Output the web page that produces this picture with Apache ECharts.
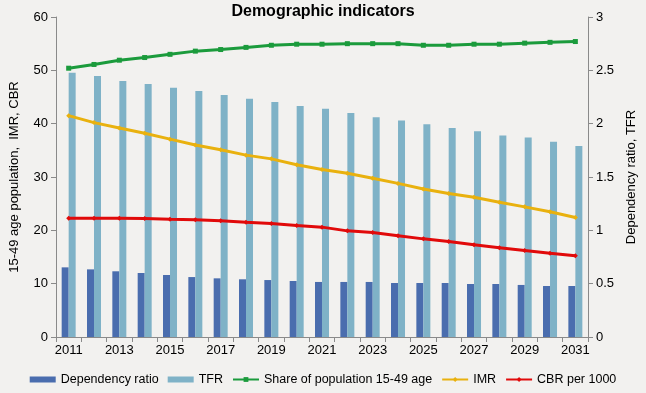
<!DOCTYPE html>
<html>
<head>
<meta charset="utf-8">
<script src="https://cdn.jsdelivr.net/npm/echarts@6/dist/echarts.min.js"></script>
<style>
html,body{margin:0;padding:0;background:#F2F1EF;}
#c{width:646px;height:393px;}
</style>
</head>
<body>
<div id="c"></div>
<script>
var years = ['2011','2012','2013','2014','2015','2016','2017','2018','2019','2020','2021','2022','2023','2024','2025','2026','2027','2028','2029','2030','2031'];
var dependencyRatio = [0.653,0.634,0.616,0.600,0.581,0.562,0.550,0.541,0.534,0.525,0.516,0.516,0.516,0.506,0.506,0.506,0.497,0.497,0.488,0.478,0.478];
var tfr = [2.478,2.447,2.400,2.372,2.337,2.306,2.269,2.234,2.203,2.166,2.140,2.100,2.060,2.030,1.995,1.960,1.930,1.890,1.870,1.830,1.790];
var share1549 = [50.4,51.1,51.9,52.4,53.0,53.6,53.9,54.3,54.7,54.9,54.9,55.0,55.0,55.0,54.7,54.7,54.9,54.9,55.1,55.25,55.4];
var imr = [41.5,40.2,39.2,38.2,37.1,36.0,35.1,34.1,33.4,32.3,31.4,30.7,29.75,28.8,27.75,26.9,26.2,25.25,24.4,23.5,22.4];
var cbr = [22.25,22.25,22.25,22.2,22.06,22.0,21.8,21.5,21.3,20.9,20.6,19.9,19.6,19.0,18.4,17.9,17.3,16.75,16.2,15.7,15.25];
var leftTicks = [0,10,20,30,40,50,60];
var rightTicks = [0,0.5,1,1.5,2,2.5,3];

var chart = echarts.init(document.getElementById('c'), null, {renderer:'canvas'});
var font = 'Liberation Sans, Arial, sans-serif';
var axisColor = '#8a8a8a';
chart.setOption({
  backgroundColor: '#F2F1EF',
  animation: false,
  title: {
    text: 'Demographic indicators',
    left: 'center',
    top: -1,
    textStyle: {fontFamily: font, fontSize: 16, fontWeight: 'bold', color: '#000'}
  },
  legend: {
    bottom: 2,
    left: 'center',
    itemWidth: 26,
    itemHeight: 6,
    itemGap: 9,
    textStyle: {fontFamily: font, fontSize: 12.5, color: '#000'},
    data: [
      {name: 'Dependency ratio', icon: 'rect'},
      {name: 'TFR', icon: 'rect'},
      'Share of population 15-49 age', 'IMR', 'CBR per 1000'
    ]
  },
  grid: {left: 50, right: 57, top: 17, bottom: 56, containLabel: false},
  xAxis: {
    type: 'category',
    data: years,
    boundaryGap: true,
    axisLine: {lineStyle: {color: axisColor}},
    axisTick: {show: true, interval: 0, length: 5, lineStyle: {color: axisColor}},
    axisLabel: {interval: 1, fontFamily: font, fontSize: 13, color: '#000', margin: 7}
  },
  yAxis: [
    {
      type: 'value', min: leftTicks[0], max: leftTicks[leftTicks.length-1], interval: 10,
      name: '15-49 age population,  IMR, CBR',
      nameLocation: 'middle', nameGap: 35, nameRotate: 90,
      nameTextStyle: {fontFamily: font, fontSize: 13, color: '#000'},
      axisLine: {show: true, lineStyle: {color: axisColor}},
      axisTick: {show: true, length: 5, lineStyle: {color: axisColor}},
      splitLine: {show: false},
      axisLabel: {fontFamily: font, fontSize: 13, color: '#000', margin: 8}
    },
    {
      type: 'value', min: rightTicks[0], max: rightTicks[rightTicks.length-1], interval: 0.5,
      name: 'Dependency ratio, TFR',
      nameLocation: 'middle', nameGap: 38, nameRotate: 90,
      nameTextStyle: {fontFamily: font, fontSize: 13, color: '#000', verticalAlign: 'bottom'},
      position: 'right',
      axisLine: {show: true, lineStyle: {color: axisColor}},
      axisTick: {show: true, length: 5, lineStyle: {color: axisColor}},
      splitLine: {show: false},
      axisLabel: {fontFamily: font, fontSize: 13, color: '#000', margin: 8}
    }
  ],
  series: [
    {name: 'Dependency ratio', type: 'bar', yAxisIndex: 1, data: dependencyRatio, barWidth: 7, barGap: '0%',
     itemStyle: {color: '#4A6DAE'}},
    {name: 'TFR', type: 'bar', yAxisIndex: 1, data: tfr, barWidth: 7, barGap: '0%',
     itemStyle: {color: '#7FB2C7'}},
    {name: 'Share of population 15-49 age', type: 'line', yAxisIndex: 0, data: share1549,
     symbol: 'rect', symbolSize: 5, lineStyle: {width: 3, color: '#1B9B3C'}, itemStyle: {color: '#1B9B3C'}},
    {name: 'IMR', type: 'line', yAxisIndex: 0, data: imr,
     symbol: 'diamond', symbolSize: 5, lineStyle: {width: 3, color: '#E9B10E'}, itemStyle: {color: '#E9B10E'}},
    {name: 'CBR per 1000', type: 'line', yAxisIndex: 0, data: cbr,
     symbol: 'diamond', symbolSize: 5, lineStyle: {width: 3, color: '#E10A0A'}, itemStyle: {color: '#E10A0A'}}
  ]
});
</script>
</body>
</html>
